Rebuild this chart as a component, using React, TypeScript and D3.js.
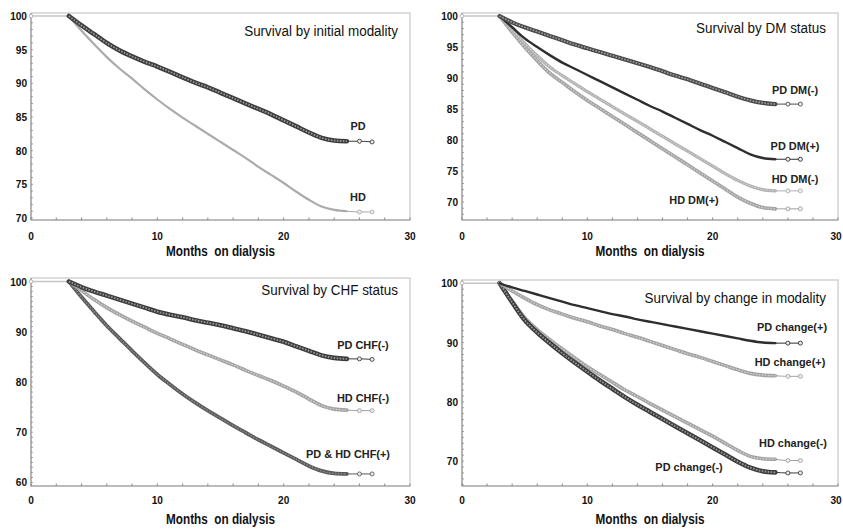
import React from "react";
import * as d3 from "d3";

const months = [3, 4, 5, 6, 7, 8, 9, 10, 11, 12, 13, 14, 15, 16, 17, 18, 19, 20, 21, 22, 23, 24, 25, 26, 27];

// Panel 1: Survival by initial modality
const p1PD = [100, 98.6, 97.3, 96.0, 94.9, 94.0, 93.2, 92.5, 91.7, 90.9, 90.1, 89.4, 88.6, 87.8, 87.0, 86.2, 85.4, 84.5, 83.6, 82.7, 81.9, 81.5, 81.4, 81.4, 81.3];
const p1HD = [100, 97.8, 95.8, 93.9, 92.2, 90.7, 89.1, 87.6, 86.2, 84.9, 83.7, 82.5, 81.3, 80.1, 78.9, 77.6, 76.4, 75.2, 73.9, 72.7, 71.7, 71.2, 71.0, 70.9, 70.9];

// Panel 2: Survival by DM status
const p2PDneg = [100, 99.0, 98.2, 97.5, 96.8, 96.1, 95.4, 94.8, 94.2, 93.6, 93.0, 92.4, 91.8, 91.1, 90.4, 89.8, 89.1, 88.4, 87.7, 87.0, 86.4, 86.0, 85.8, 85.8, 85.8];
const p2PDpos = [100, 98.2, 96.4, 95.0, 93.7, 92.5, 91.5, 90.5, 89.5, 88.5, 87.5, 86.5, 85.5, 84.6, 83.6, 82.6, 81.6, 80.7, 79.7, 78.7, 77.7, 77.1, 76.9, 76.9, 76.9];
const p2HDneg = [100, 97.8, 95.6, 93.6, 91.8, 90.4, 89.1, 87.8, 86.6, 85.4, 84.2, 83.0, 81.8, 80.6, 79.4, 78.2, 77.0, 75.8, 74.6, 73.5, 72.6, 72.0, 71.8, 71.8, 71.8];
const p2HDpos = [100, 97.4, 95.0, 92.8, 90.8, 89.3, 87.8, 86.4, 85.1, 83.8, 82.5, 81.2, 79.9, 78.6, 77.3, 76.0, 74.7, 73.4, 72.1, 70.8, 69.8, 69.1, 68.9, 68.9, 68.9];

// Panel 3: Survival by CHF status
const p3PDneg = [100, 98.9, 98.0, 97.2, 96.4, 95.6, 94.8, 94.0, 93.4, 92.9, 92.3, 91.8, 91.3, 90.7, 90.1, 89.4, 88.7, 88.0, 87.1, 86.2, 85.3, 84.8, 84.6, 84.6, 84.5];
const p3HDneg = [100, 98.2, 96.4, 94.8, 93.4, 92.1, 90.9, 89.7, 88.6, 87.5, 86.4, 85.4, 84.4, 83.4, 82.3, 81.3, 80.3, 79.2, 78.0, 76.6, 75.3, 74.6, 74.4, 74.3, 74.3];
const p3Pos = [100, 96.9, 94.0, 91.2, 88.7, 86.2, 83.8, 81.5, 79.5, 77.6, 75.9, 74.3, 72.8, 71.3, 69.9, 68.5, 67.2, 65.9, 64.6, 63.3, 62.3, 61.8, 61.7, 61.7, 61.7];

// Panel 4: Survival by change in modality
const p4PDpos = [100, 99.3, 98.7, 98.1, 97.5, 96.9, 96.3, 95.8, 95.3, 94.8, 94.4, 93.9, 93.5, 93.1, 92.7, 92.3, 91.9, 91.5, 91.1, 90.7, 90.3, 90.0, 89.9, 89.9, 89.9];
const p4HDpos = [100, 98.7, 97.5, 96.4, 95.5, 94.8, 94.1, 93.5, 92.8, 92.2, 91.5, 90.9, 90.2, 89.5, 88.8, 88.1, 87.5, 86.8, 86.1, 85.4, 84.8, 84.5, 84.4, 84.3, 84.3];
const p4HDneg = [100, 97.0, 94.2, 92.2, 90.5, 88.9, 87.4, 85.9, 84.6, 83.3, 82.0, 80.9, 79.7, 78.6, 77.5, 76.4, 75.3, 74.2, 73.0, 71.8, 70.8, 70.4, 70.3, 70.1, 70.1];
const p4PDneg = [100, 96.8, 93.8, 91.7, 89.9, 88.2, 86.6, 85.1, 83.6, 82.2, 80.8, 79.5, 78.3, 77.1, 75.9, 74.7, 73.5, 72.3, 71.1, 69.9, 68.9, 68.3, 68.1, 68.0, 68.0];

const titles = ["Survival by initial modality", "Survival by DM status", "Survival by CHF status", "Survival by change in modality"];
const xTicks = [0, 10, 20, 30];
const yTicks1 = [70, 75, 80, 85, 90, 95, 100];
const yTicks2 = [70, 75, 80, 85, 90, 95, 100];
const yTicks3 = [60, 70, 80, 90, 100];
const yTicks4 = [70, 80, 90, 100];
const xTitle = "Months  on dialysis";

type Style = { outer: string; w: number; inner?: string; iw?: number };
const S_BEAD: Style = { outer: "#3c3c3c", w: 4.6, inner: "#9a9a9a", iw: 1.8 };
const S_DARK: Style = { outer: "#2e2e2e", w: 2.4 };
const S_GRAYB: Style = { outer: "#a2a2a2", w: 3.6, inner: "#cfcfcf", iw: 1.4 };
const S_MED: Style = { outer: "#5a5a5a", w: 3.8, inner: "#8c8c8c", iw: 1.4 };

type Series = { v: number[]; style: Style };
type Label = { text: string; x: number; y: number };
type Panel = {
  x0: number; x1: number; yb: number; yt: number; dom: [number, number];
  yTicks: number[]; series: Series[]; title: string; titleY: number; labels: Label[];
  tickY: number; axisTitleY: number;
};

const FONT = "'Liberation Sans', Arial, sans-serif";

const panels: Panel[] = [
  {
    x0: 31, x1: 410, yb: 220, yt: 13, dom: [69.7, 100.45], yTicks: yTicks1,
    series: [{ v: p1HD, style: { outer: "#ababab", w: 2.2 } }, { v: p1PD, style: S_BEAD }],
    title: titles[0], titleY: 36, tickY: 240, axisTitleY: 256,
    labels: [{ text: "PD", x: 358, y: 130 }, { text: "HD", x: 358, y: 201 }],
  },
  {
    x0: 462, x1: 838, yb: 220, yt: 13, dom: [67.1, 100.5], yTicks: yTicks2,
    series: [
      { v: p2HDpos, style: S_GRAYB }, { v: p2HDneg, style: { outer: "#b0b0b0", w: 3.2, inner: "#d2d2d2", iw: 1.2 } },
      { v: p2PDpos, style: S_DARK }, { v: p2PDneg, style: { outer: "#4a4a4a", w: 4.2, inner: "#a0a0a0", iw: 1.6 } },
    ],
    title: titles[1], titleY: 33, tickY: 240, axisTitleY: 256,
    labels: [
      { text: "PD DM(-)", x: 795, y: 94 }, { text: "PD DM(+)", x: 795, y: 150 },
      { text: "HD DM(-)", x: 795, y: 183 }, { text: "HD DM(+)", x: 694, y: 204 },
    ],
  },
  {
    x0: 31, x1: 410, yb: 486, yt: 278, dom: [59.3, 100.7], yTicks: yTicks3,
    series: [
      { v: p3Pos, style: S_MED }, { v: p3HDneg, style: S_GRAYB }, { v: p3PDneg, style: S_BEAD },
    ],
    title: titles[2], titleY: 295, tickY: 504, axisTitleY: 524,
    labels: [
      { text: "PD CHF(-)", x: 363, y: 349 }, { text: "HD CHF(-)", x: 363, y: 402 },
      { text: "PD & HD CHF(+)", x: 348, y: 458 },
    ],
  },
  {
    x0: 462, x1: 838, yb: 486, yt: 280, dom: [65.8, 100.55], yTicks: yTicks4,
    series: [
      { v: p4HDneg, style: S_GRAYB }, { v: p4PDneg, style: S_BEAD },
      { v: p4HDpos, style: S_GRAYB }, { v: p4PDpos, style: S_DARK },
    ],
    title: titles[3], titleY: 303, tickY: 504, axisTitleY: 524,
    labels: [
      { text: "PD change(+)", x: 792, y: 331 }, { text: "HD change(+)", x: 790, y: 366 },
      { text: "HD change(-)", x: 793, y: 447 }, { text: "PD change(-)", x: 689, y: 471 },
    ],
  },
];

function T(props: { x: number; y: number; sx?: number; anchor?: string; size: number; bold?: boolean; fill?: string; children: React.ReactNode }) {
  const { x, y, sx = 1, anchor = "start", size, bold, fill = "#111", children } = props;
  return (
    <text
      transform={`translate(${x},${y}) scale(${sx},1)`}
      textAnchor={anchor}
      fontSize={size}
      fontWeight={bold ? "bold" : "normal"}
      fill={fill}
      fontFamily={FONT}
      style={{ whiteSpace: "pre" }}
    >
      {children}
    </text>
  );
}

function PanelView({ p }: { p: Panel }) {
  const x = d3.scaleLinear().domain([0, 30]).range([p.x0, p.x1]);
  const y = d3.scaleLinear().domain(p.dom).range([p.yb, p.yt]);
  const line = d3.line<[number, number]>().x((d) => x(d[0])).y((d) => y(d[1])).curve(d3.curveMonotoneX);
  const minorX = d3.range(0, 31, 2);
  const minorY = d3.range(Math.ceil(p.dom[0]), Math.floor(p.dom[1]) + 1, 1);
  return (
    <g>
      <rect x={p.x0} y={p.yt} width={p.x1 - p.x0} height={p.yb - p.yt} fill="white" stroke="#cfcfcf" strokeWidth={1.4} />
      <line x1={p.x0} x2={p.x0} y1={p.yt} y2={p.yb} stroke="#9a9a9a" strokeWidth={1.2} />
      <line x1={p.x0} x2={p.x1} y1={p.yb} y2={p.yb} stroke="#9a9a9a" strokeWidth={1.2} />
      {minorX.map((t) => (
        <line key={"mx" + t} x1={x(t)} x2={x(t)} y1={p.yb} y2={p.yb - 2.5} stroke="#8a8a8a" strokeWidth={1} />
      ))}
      {minorY.map((t) => (
        <line key={"my" + t} x1={p.x0} x2={p.x0 + 2} y1={y(t)} y2={y(t)} stroke="#8a8a8a" strokeWidth={0.8} />
      ))}
      {xTicks.map((t) => (
        <T key={"xt" + t} x={Math.min(x(t), 836)} y={p.tickY} anchor="middle" size={11} bold sx={0.92}>{t}</T>
      ))}
      {p.yTicks.map((t) => (
        <T key={"yt" + t} x={p.x0 - 4} y={y(t) + 4} anchor="end" size={11} bold sx={0.92}>{t}</T>
      ))}
      <T x={(p.x0 + p.x1) / 2} y={p.axisTitleY} anchor="middle" size={14} bold sx={0.84}>{xTitle}</T>
      {/* flat segment before month 3 */}
      <line x1={x(0)} x2={x(3)} y1={y(100)} y2={y(100)} stroke="#c4c4c4" strokeWidth={1.5} />
      <circle cx={x(0)} cy={y(100)} r={1.8} fill="white" stroke="#aaa" strokeWidth={0.8} />
      {p.series.map((s, i) => {
        const pts: [number, number][] = months.map((m, k) => [m, s.v[k]]);
        const main = pts.filter((d) => d[0] <= 25);
        const tail = pts.filter((d) => d[0] >= 25);
        return (
          <g key={i}>
            <path d={line(tail) || ""} fill="none" stroke={s.style.outer} strokeWidth={1} />
            {tail.slice(1).map((d, k) => (
              <circle key={k} cx={x(d[0])} cy={y(d[1])} r={2} fill="#eee" stroke={s.style.outer} strokeWidth={0.9} />
            ))}
            <path d={line(main) || ""} fill="none" stroke={s.style.outer} strokeWidth={s.style.w} strokeLinecap="round" />
            {s.style.inner && (
              <path d={line(main) || ""} fill="none" stroke={s.style.inner} strokeWidth={s.style.iw} strokeDasharray="1.6 1.4" />
            )}
          </g>
        );
      })}
      <T x={p.x1 - 12} y={p.titleY} anchor="end" size={14} sx={0.96}>{p.title}</T>
      {p.labels.map((l, i) => (
        <T key={i} x={l.x} y={l.y} anchor="middle" size={11.5} bold sx={0.95} fill="#222">{l.text}</T>
      ))}
    </g>
  );
}

export default function App() {
  return (
    <svg width={843} height={530} style={{ position: "absolute", left: 0, top: 0, background: "white" }}>
      <rect x={0} y={0} width={843} height={530} fill="white" />
      {panels.map((p, i) => (
        <PanelView key={i} p={p} />
      ))}
    </svg>
  );
}
